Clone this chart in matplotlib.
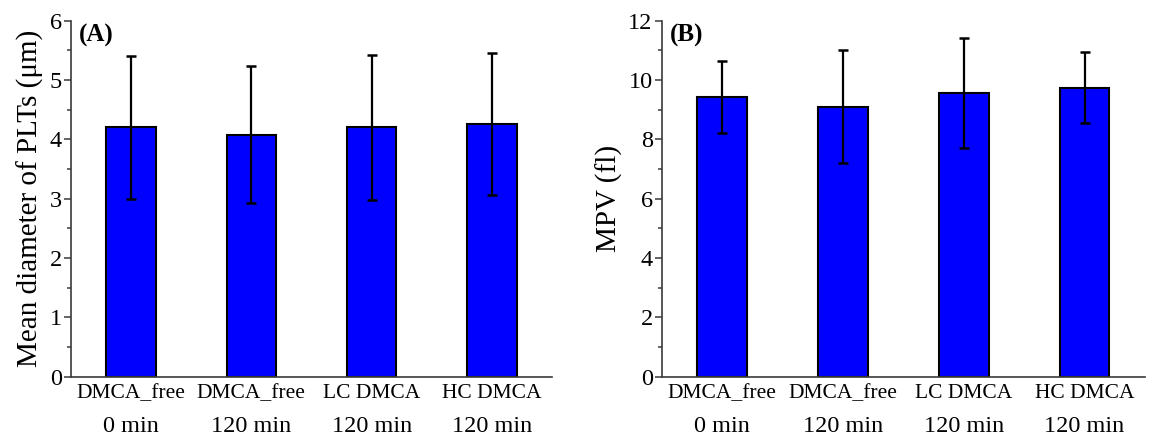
import matplotlib
matplotlib.use("Agg")
import matplotlib.pyplot as plt
import matplotlib.transforms as mtransforms
from matplotlib.ticker import MultipleLocator

# ---- data ----
group_line1 = ['DMCA_free', 'DMCA_free', 'LC DMCA', 'HC DMCA']
group_line2 = ['0 min', '120 min', '120 min', '120 min']
diameter_mean = [4.20, 4.08, 4.20, 4.26]
diameter_err = [1.20, 1.16, 1.23, 1.19]
mpv_mean = [9.43, 9.10, 9.56, 9.74]
mpv_err = [1.21, 1.91, 1.84, 1.19]

plt.rcParams['font.family'] = ['Liberation Serif', 'DejaVu Serif']
plt.rcParams['mathtext.fontset'] = 'custom'

fig = plt.figure(figsize=(11.52, 4.4), dpi=100)
axA = fig.add_axes([0.0614, 0.1439, 0.4180, 0.8091])
axB = fig.add_axes([0.5744, 0.1439, 0.4195, 0.8091])

panels = [
    (axA, diameter_mean, diameter_err, 'Mean diameter of PLTs (μm)', 6, 1, 0.5, '(A)'),
    (axB, mpv_mean, mpv_err, 'MPV (fl)', 12, 2, 1, '(B)'),
]

x = list(range(1, len(group_line1) + 1))
spine_col = '#3a3a3a'
for ax, means, errs, ylabel, ymax, major, minor, tag in panels:
    ax.bar(x, means, width=0.41, color='#0000FF', edgecolor='black', linewidth=1.5, zorder=2)
    ax.errorbar(x, means, yerr=errs, fmt='none', ecolor='black', elinewidth=1.6,
                capsize=3.3, capthick=1.8, zorder=3)
    ax.set_xlim(0.5, 4.5)
    ax.set_ylim(0, ymax)
    ax.yaxis.set_major_locator(MultipleLocator(major))
    ax.yaxis.set_minor_locator(MultipleLocator(minor))
    for s in ['top', 'right']:
        ax.spines[s].set_visible(False)
    for s in ['left', 'bottom']:
        ax.spines[s].set_color(spine_col)
        ax.spines[s].set_linewidth(1.2)
    ax.tick_params(axis='y', which='major', length=5, width=1.1, color=spine_col,
                   labelsize=17.5, pad=1.5, direction='out')
    ax.tick_params(axis='y', which='minor', length=3, width=1.1, color=spine_col,
                   direction='out')
    ax.set_xticks(x)
    ax.set_xticklabels(group_line1, fontsize=15.5)
    ax.tick_params(axis='x', which='both', length=0, pad=5)
    trans = mtransforms.blended_transform_factory(ax.transData, ax.transAxes)
    for xi, lab in zip(x, group_line2):
        ax.text(xi, -0.141, lab, transform=trans, ha='center', va='center', fontsize=17.5)
    ax.set_ylabel(ylabel, fontsize=21, labelpad=4)
    ax.text(0.016, 0.99, tag, transform=ax.transAxes, ha='left', va='top',
            fontsize=18, fontweight='bold')

fig.savefig('out.png', dpi=100, facecolor='white')
